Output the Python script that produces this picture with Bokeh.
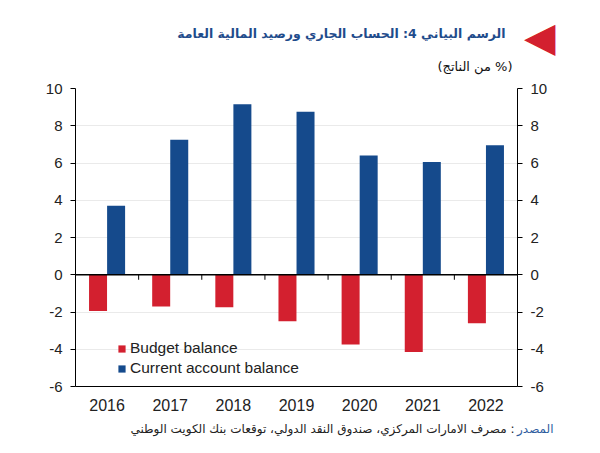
from bokeh.plotting import figure
from bokeh.models import (FactorRange, LinearAxis, Span, Legend, LegendItem,
                          Label, ColumnDataSource, FixedTicker,
                          CustomJSTickFormatter)
from bokeh.transform import dodge
from bokeh.embed import file_html
from bokeh.resources import INLINE

# ---- data ----
years = ["2016", "2017", "2018", "2019", "2020", "2021", "2022"]
budget_balance = [-1.95, -1.7, -1.75, -2.5, -3.75, -4.15, -2.6]
current_account = [3.7, 7.25, 9.15, 8.75, 6.4, 6.05, 6.95]
y_ticks = [-6, -4, -2, 0, 2, 4, 6, 8, 10]

title_text = "الرسم البياني 4: الحساب الجاري ورصيد المالية العامة"
subtitle_text = "\u202b(% من الناتج)\u202c"
source_head = "المصدر"
source_rest = "\u200f: مصرف الامارات المركزي، صندوق النقد الدولي، توقعات بنك الكويت الوطني"
series_names = ["Budget balance", "Current account balance"]

RED = "#D3202F"
BLUE = "#154A8C"
TITLE_BLUE = "#1F4C8C"
FONT = "Liberation Sans"
AR_FONT = "DejaVu Sans"

src = ColumnDataSource(dict(year=years, budget=budget_balance, current=current_account))

p = figure(width=600, height=453, x_range=FactorRange(*years), y_range=(-6, 10),
           output_backend="svg", toolbar_location=None,
           min_border_left=75, min_border_right=83, min_border_top=88, min_border_bottom=67)
p.outline_line_color = None
p.background_fill_color = "white"
p.border_fill_color = "white"

p.xgrid.grid_line_color = None
p.ygrid.grid_line_color = "#EAEAEA"
p.ygrid.ticker = FixedTicker(ticks=y_ticks)

r1 = p.vbar(x=dodge("year", -0.143, range=p.x_range), top="budget", width=0.285,
            source=src, fill_color=RED, line_color=None)
r2 = p.vbar(x=dodge("year", 0.143, range=p.x_range), top="current", width=0.285,
            source=src, fill_color=BLUE, line_color=None)

p.add_layout(Span(location=0, dimension="width", line_color="black", line_width=1.5))
bounds = list(range(1, len(years)))
p.segment(x0=bounds, x1=bounds, y0=[0] * len(bounds), y1=[-0.27] * len(bounds),
          line_color="black", line_width=1)

xa = p.xaxis[0]
xa.axis_line_color = "black"
xa.major_tick_line_color = None
xa.major_tick_out = 0
xa.major_tick_in = 0
xa.major_label_standoff = 12
xa.major_label_text_font = FONT
xa.major_label_text_font_size = "16px"
xa.major_label_text_color = "#222222"

fmt = CustomJSTickFormatter(code="return String(tick);")


def style_y(ax):
    ax.ticker = FixedTicker(ticks=y_ticks)
    ax.formatter = fmt
    ax.axis_line_color = "black"
    ax.major_tick_line_color = "black"
    ax.major_tick_out = 5
    ax.major_tick_in = 0
    ax.minor_tick_line_color = None
    ax.major_label_standoff = 8
    ax.major_label_text_font = FONT
    ax.major_label_text_font_size = "15px"
    ax.major_label_text_color = "#222222"


style_y(p.yaxis[0])
ra = LinearAxis()
style_y(ra)
p.add_layout(ra, "right")

legend = Legend(items=[LegendItem(label=series_names[0], renderers=[r1]),
                       LegendItem(label=series_names[1], renderers=[r2])],
                location=(42, 8), orientation="vertical")
legend.background_fill_alpha = 0
legend.border_line_color = None
legend.padding = 0
legend.margin = 0
legend.spacing = 0
legend.glyph_width = 9
legend.glyph_height = 9
legend.label_height = 20
legend.label_standoff = 4
legend.label_text_font = FONT
legend.label_text_font_size = "15.5px"
legend.label_text_color = "#222222"
legend.label_text_baseline = "middle"
p.add_layout(legend, "center")


def canvas_label(x, y, text, size, color, bold=False, font=AR_FONT):
    return Label(x=x, y=y, x_units="canvas", y_units="canvas", text=text,
                 text_align="right", text_baseline="middle", text_font=font,
                 text_font_size=size, text_font_style="bold" if bold else "normal",
                 text_color=color)


# header texts (side panels are not clipped to the plot frame)
p.add_layout(canvas_label(505, 33, title_text, "12.5px", TITLE_BLUE, bold=True), "above")
p.add_layout(canvas_label(512, 66, subtitle_text, "13px", "#111111"), "above")
# red marker triangle next to the title
p.add_layout(canvas_label(555, 36, "\u25c0", "41px", RED), "right")

# source line
p.add_layout(canvas_label(553, 428, source_head, "12px", "#2E5C9E"), "below")
p.add_layout(canvas_label(514, 428, source_rest, "12px", "#222222"), "below")

open("out.html", "w").write(file_html(p, INLINE))
